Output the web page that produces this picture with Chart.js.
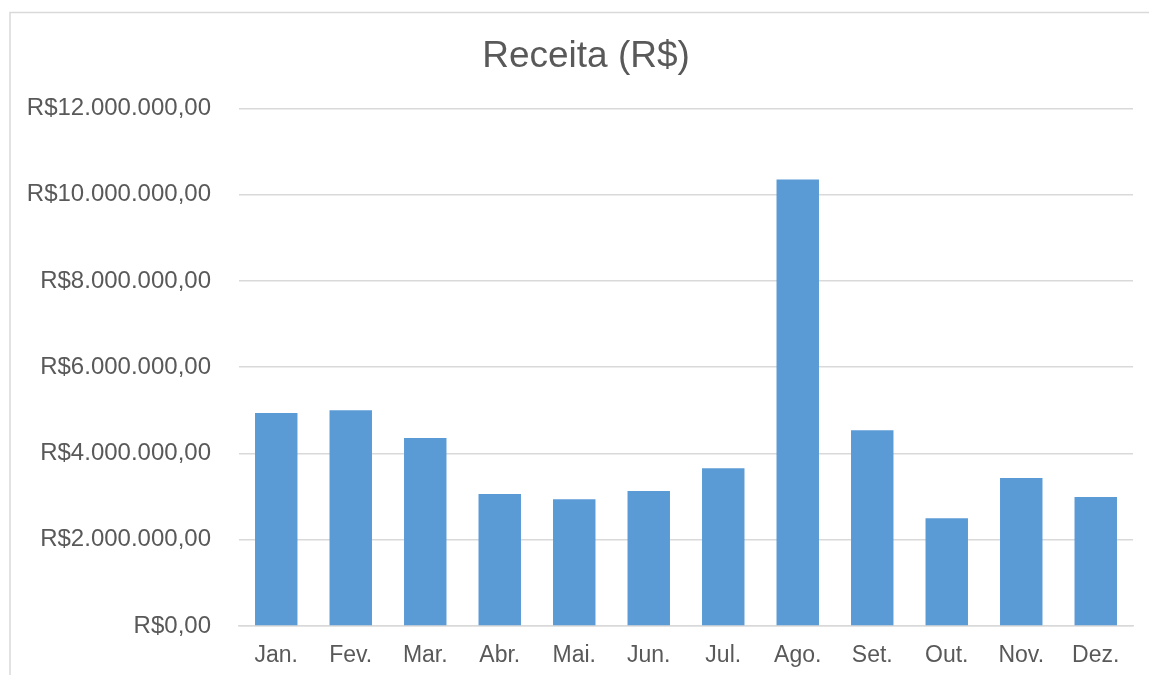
<!DOCTYPE html>
<html>
<head>
<meta charset="utf-8">
<script src="https://cdn.jsdelivr.net/npm/chart.js@4"></script>
<style>
  html, body { margin: 0; padding: 0; background: #fff; overflow: hidden; width: 1149px; height: 675px; }
  #wrap { position: absolute; left: 0; top: 0; width: 1172px; height: 675px; }
</style>
</head>
<body>
<div id="wrap"><canvas id="c" width="1172" height="675"></canvas></div>
<script>
const categories = ["Jan.", "Fev.", "Mar.", "Abr.", "Mai.", "Jun.", "Jul.", "Ago.", "Set.", "Out.", "Nov.", "Dez."];
const receita = [4940000, 5000000, 4360000, 3060000, 2940000, 3130000, 3660000, 10350000, 4540000, 2500000, 3430000, 2990000];
const yMax = 12000000;
const yStep = 2000000;

function formatBRL(v) {
  const parts = Math.round(v).toString().replace(/\B(?=(\d{3})+(?!\d))/g, ".");
  return "R$" + parts + ",00";
}

const borderPlugin = {
  id: 'outerBorder',
  beforeDraw(chart) {
    const ctx = chart.ctx;
    ctx.save();
    ctx.fillStyle = '#ffffff';
    ctx.fillRect(0, 0, chart.width, chart.height);
    ctx.strokeStyle = '#d9d9d9';
    ctx.lineWidth = 1.5;
    ctx.strokeRect(10, 12.5, 1180, 700);
    ctx.restore();
  }
};

// centre the title over the whole chart frame rather than the padded area
const titleShift = {
  id: 'titleShift',
  afterLayout(chart) {
    if (chart.titleBlock) {
      chart.titleBlock.left = 39;
    }
  }
};

new Chart(document.getElementById('c'), {
  type: 'bar',
  data: {
    labels: categories,
    datasets: [{
      label: 'Receita (R$)',
      data: receita,
      backgroundColor: '#5b9bd5',
      borderWidth: 0,
      categoryPercentage: 1,
      barPercentage: 0.57
    }]
  },
  options: {
    responsive: false,
    animation: false,
    devicePixelRatio: 1,
    layout: { padding: { left: 0, right: 39, top: 0, bottom: 0 } },
    plugins: {
      legend: { display: false },
      tooltip: { enabled: false },
      title: {
        display: true,
        text: 'Receita (R$)',
        color: '#595959',
        font: { family: 'Liberation Sans, Arial, sans-serif', size: 37, weight: 'normal' },
        padding: { top: 35, bottom: 29 }
      }
    },
    scales: {
      x: {
        grid: { display: false, drawTicks: false },
        border: { display: true, color: '#d9d9d9', width: 1.5 },
        ticks: {
          color: '#595959',
          font: { family: 'Liberation Sans, Arial, sans-serif', size: 23 },
          padding: 16,
          maxRotation: 0
        },
        afterFit(scale) { scale.height = 49; }
      },
      y: {
        min: 0,
        max: yMax,
        grid: { color: '#d9d9d9', lineWidth: 1.5, drawTicks: false },
        border: { display: false },
        ticks: {
          stepSize: yStep,
          color: '#595959',
          font: { family: 'Liberation Sans, Arial, sans-serif', size: 24 },
          padding: 28,
          callback: (v) => formatBRL(v)
        },
        afterFit(scale) { scale.width = 239; }
      }
    }
  },
  plugins: [borderPlugin, titleShift]
});
</script>
</body>
</html>
